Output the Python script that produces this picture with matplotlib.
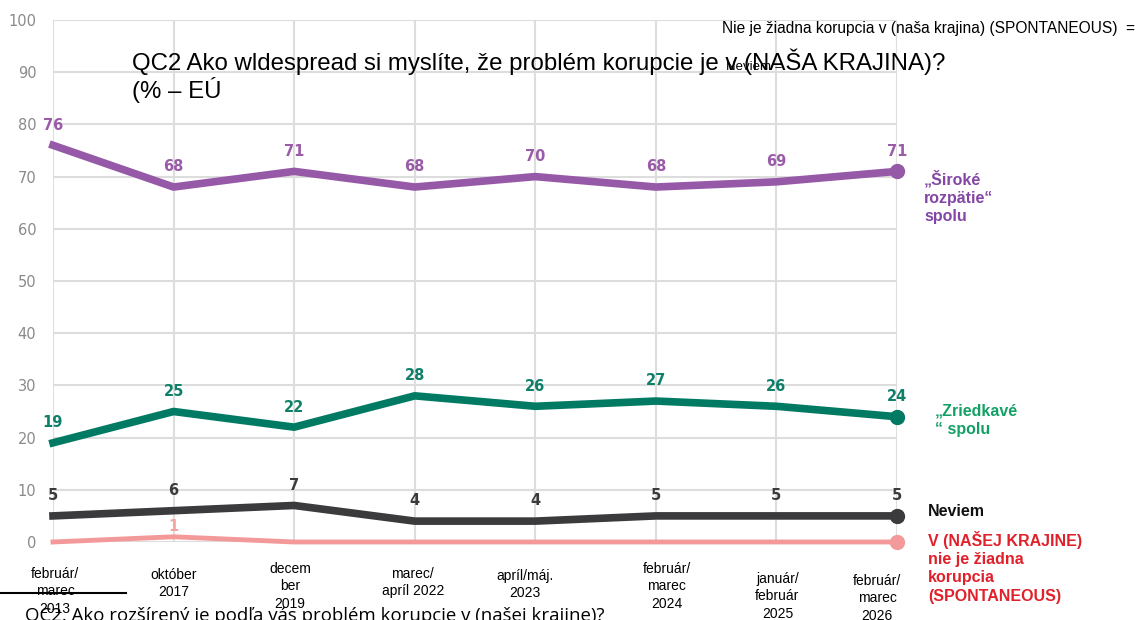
import matplotlib.pyplot as plt
from matplotlib.transforms import offset_copy
from matplotlib.lines import Line2D

# data
waves = ["február/\nmarec\n2013", "október\n2017", "decem\nber\n2019", "marec/\napríl 2022",
         "apríl/máj.\n2023", "február/\nmarec\n2024", "január/\nfebruár\n2025", "február/\nmarec\n2026"]
siroke = [76, 68, 71, 68, 70, 68, 69, 71]
zriedkave = [19, 25, 22, 28, 26, 27, 26, 24]
neviem = [5, 6, 7, 4, 4, 5, 5, 5]
ziadna = [0, 1, 0, 0, 0, 0, 0, 0]

W, H = 1147, 620
fig = plt.figure(figsize=(W / 100, H / 100), dpi=100)

def fx(x):
	return x / W

def fy(y):
	return 1 - y / H

ax = fig.add_axes([fx(53), fy(542), fx(897) - fx(53), fy(20) - fy(542)])
ax.set_xlim(0, len(waves) - 1)
ax.set_ylim(0, 100)
for s in ax.spines.values():
	s.set_visible(False)
ax.set_yticks(range(0, 101, 10))
ax.set_xticks(range(len(waves)))
ax.set_xticklabels([])
ax.grid(True, color="#dddddd", lw=1.5)
ax.set_axisbelow(True)
ax.tick_params(length=0, pad=12, labelsize=10.5, labelcolor="#8a8a8a")

x = list(range(len(waves)))
series = [
	(siroke, "#9659a8", "#9a5ca8", 5.5, 14.5),
	(zriedkave, "#007a63", "#0e7f68", 5.5, 14.5),
	(neviem, "#3b3a3c", "#3b3b3b", 5.5, 14.5),
	(ziadna, "#f4999a", "#f4a3a3", 3.5, 7.5),
]
for vals, col, lcol, lw, off in series:
	ax.plot(x, vals, color=col, lw=lw, solid_joinstyle="round", clip_on=False, zorder=3)
	ax.plot(x[-1], vals[-1], "o", color=col, ms=10, clip_on=False, zorder=4)
	for i, v in enumerate(vals):
		if vals is ziadna and v == 0:
			continue
		ax.annotate(str(v), (i, v), xytext=(0, off), textcoords="offset points",
					ha="center", va="center", fontsize=10.5, fontweight="bold",
					color=lcol, zorder=5)

# x labels, each a bit off its tick like in the original
lab_off = [(2, 25), (0, 26), (-4, 20), (-2, 25), (-10, 27), (11, 20), (1, 30), (-20, 32)]
for i, lab in enumerate(waves):
	dx, dy = lab_off[i]
	tr = offset_copy(ax.transData, fig=fig, x=dx, y=-dy, units="dots")
	ax.text(i, 0, lab, transform=tr, ha="center", va="top", fontsize=10,
			family="Liberation Sans", linespacing=1.3, clip_on=False)

# right side labels
bold = dict(fontsize=11.5, fontweight="bold", family="Liberation Sans", linespacing=1.27, va="top")
fig.text(fx(924), fy(170), "„Široké\nrozpätie“\nspolu", color="#8446a4", **bold)
fig.text(fx(935), fy(404), "„Zriedkavé\n“ spolu", color="#14a065", **bold)
fig.text(fx(928), fy(504), "Neviem", color="#111111", **bold)
fig.text(fx(928), fy(531), "V (NAŠEJ KRAJINE)\nnie je žiadna\nkorupcia\n(SPONTANEOUS)", color="#e0202a", **bold)

# leftover slide texts
fig.text(fx(132), fy(62), "QC2 Ako wldespread si myslíte, že problém korupcie je v (NAŠA KRAJINA)?",
		 fontsize=17.3, family="Liberation Sans", va="center")
fig.text(fx(132), fy(90), "(% – EÚ", fontsize=17.3, family="Liberation Sans", va="center")
fig.text(fx(722), fy(29), "Nie je žiadna korupcia v (naša krajina) (SPONTANEOUS)  =",
		 fontsize=11.2, family="Liberation Sans", va="center")
fig.text(fx(726), fy(67), "Neviem =", fontsize=9.5, family="Liberation Sans", va="center")
fig.text(fx(25), fy(621), "QC2. Ako rozšírený je podľa vás problém korupcie v (našej krajine)?",
		 fontsize=13.4, family="Open Sans", va="baseline")
fig.add_artist(Line2D([0, fx(126)], [fy(593), fy(593)], color="black", lw=1.5))

plt.savefig("out.png", dpi=100)
